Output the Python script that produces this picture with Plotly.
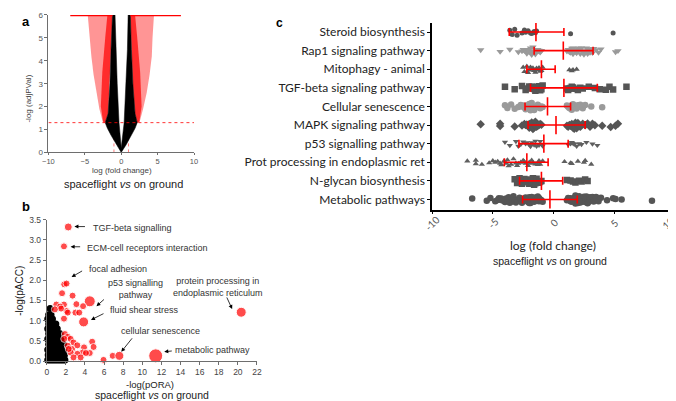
import plotly.graph_objects as go

W, H = 676, 401


def P(x, y):
    # pixel position -> paper coords
    return x / W, 1 - y / H


# ---------------- panel a: volcano (envelopes of the dense point clouds)
black_x = [0, -0.7, -1.4, -1.9, -2.2, -1.8, -1.55, -1.4, -1.2, -0.85, -0.75, -0.55, -0.3, 0,
           0.4, 0.65, 0.85, 0.95, 1.25, 1.4, 1.6, 1.9, 2.2, 1.9, 1.4, 0.7, 0]
black_y = [0, 0.35, 0.75, 1.05, 1.3, 1.7, 3.0, 4.5, 6.0, 6.0, 4.5, 3.0, 1.3, 0.2,
           1.3, 3.0, 4.5, 6.0, 6.0, 4.5, 3.0, 1.7, 1.3, 1.05, 0.75, 0.35, 0]
red_left_x = [-2.2, -2.5, -3.0, -3.4, -3.8, -4.1, -4.3, -4.5, -4.6, -1.2, -1.4, -1.55, -1.8, -2.2]
red_left_y = [1.3, 1.3, 1.9, 2.6, 3.4, 4.2, 5.0, 5.7, 6.0, 6.0, 4.5, 3.0, 1.7, 1.3]
red_right_x = [2.2, 2.5, 3.0, 3.5, 3.9, 4.2, 4.3, 4.4, 4.5, 1.25, 1.4, 1.6, 1.9, 2.2]
red_right_y = [1.3, 1.3, 1.9, 2.6, 3.4, 4.2, 5.0, 5.7, 6.0, 6.0, 4.5, 3.0, 1.7, 1.3]
dense_left_x = [-2.2, -2.5, -2.8, -2.6, -2.2, -1.9, -1.2, -1.4, -1.55, -1.8, -2.2]
dense_left_y = [1.3, 1.35, 2.0, 3.5, 5.0, 6.0, 6.0, 4.5, 3.0, 1.7, 1.3]
dense_right_x = [2.2, 2.5, 2.8, 2.6, 2.2, 1.9, 1.25, 1.4, 1.6, 1.9, 2.2]
dense_right_y = [1.3, 1.35, 2.0, 3.5, 5.0, 6.0, 6.0, 4.5, 3.0, 1.7, 1.3]
top_left = [-7.0, -1.2]
top_right = [1.25, 8.2]
p_cut = 1.3
fc_cut = [-1, 1]

# ---------------- panel b: pathway scatter
b_black_x = [0.1, 0.3, 0.5, 0.7, 0.9, 1.1, 1.3, 1.5, 1.7, 1.9,
             0.15, 0.4, 0.6, 0.85, 1.05, 1.25, 1.45, 1.65, 1.85,
             0.1, 0.35, 0.55, 0.8, 1.0, 1.2, 1.4, 1.6, 1.8,
             0.2, 0.45, 0.7, 0.9, 1.15, 1.35, 1.55, 1.75,
             0.1, 0.3, 0.6, 0.8, 1.05, 1.3, 1.5,
             0.2, 0.45, 0.7, 0.95, 1.2, 1.4,
             0.1, 0.35, 0.6, 0.85, 1.1,
             0.2, 0.45, 0.7, 0.95,
             0.1, 0.35, 0.6,
             0.2, 0.45, 0.35]
b_black_y = [0.03] * 10 + [0.15] * 9 + [0.28] * 9 + [0.42] * 8 + [0.55] * 7 + [0.68] * 6 + \
            [0.8] * 5 + [0.92] * 4 + [1.04] * 3 + [1.15] * 2 + [1.3]
b_red_x = [2.25, 1.8, 1.83, 2.07, 1.6, 2.7, 4.5, 3.1, 3.8, 1.8, 1.0, 1.4, 2.07, 3.0, 3.4,
           3.86, 1.8, 2.2, 1.5, 0.85, 1.9, 2.2, 1.83, 2.5, 2.8, 2.2, 2.65, 3.2, 3.9, 4.75,
           4.9, 4.5, 3.75, 3.2, 2.5, 2.8, 2.3, 5.94, 6.9, 7.6, 3.55, 4.1, 20.35, 11.4]
b_red_y = [3.32, 2.84, 1.9, 1.92, 1.68, 1.62, 1.48, 1.41, 1.36, 1.4, 1.4, 1.35, 1.24, 1.2, 1.2,
           0.97, 1.05, 1.2, 1.3, 1.28, 0.67, 0.6, 0.55, 0.55, 0.46, 0.38, 0.3, 0.39, 0.34, 0.48,
           0.35, 0.2, 0.21, 0.18, 0.21, 0.09, 0.3, 0.03, 0.13, 0.13, 0.09, 0.2, 1.21, 0.13]
b_red_size = [8, 7, 7, 7, 7, 7, 11, 7, 7, 7, 7, 7, 7, 7, 7,
              10, 7, 7, 7, 7, 7, 7, 7, 7, 7, 7, 7, 7, 7, 7,
              7, 7, 7, 7, 7, 7, 7, 7, 7, 9, 7, 7, 10, 14]

# ---------------- panel c: genes per pathway
pathways = ["Steroid biosynthesis", "Rap1 signaling pathway", "Mitophagy - animal",
            "TGF-beta signaling pathway", "Cellular senescence", "MAPK signaling pathway",
            "p53 signalling pathway", "Prot processing in endoplasmic ret",
            "N-glycan biosynthesis", "Metabolic pathways"]
steroid = [-3.6, -3.4, -3.2, -3.0, -2.6, -2.4, -2.3, -2.1, -1.9, -1.8, -1.6, -1.5, -1.4, 1.4, 4.9]
rap1 = [-6.0, -4.4, -3.6, -2.9, -2.6, -2.5, -2.4, -2.3, -2.2, -2.1, -2.0, -1.9, -1.8, -1.7, -1.6,
        -1.5, -1.4, -1.3, -1.2, -1.1, -1.0, -2.2, -1.8, -1.5, -1.2, 1.1, 1.2, 1.3, 1.4, 1.5, 1.6,
        1.7, 1.8, 1.9, 2.0, 2.1, 2.2, 2.3, 2.4, 2.5, 2.6, 2.7, 2.8, 2.9, 3.0, 3.1, 3.2, 3.3, 3.5,
        3.7, 3.9, 1.3, 1.6, 2.0, 2.4, 2.8, 3.2, 5.1, 5.3]
mitophagy = [-2.5, -2.4, -2.2, -2.1, -2.0, -1.9, -1.8, -1.7, -1.6, -1.5, -1.4, -1.3, -1.2, -1.1,
             -1.0, -0.9, 1.3, 1.5, 1.6, 1.9]
tgf = [-4.0, -3.2, -2.6, -2.3, -2.1, -2.0, -1.9, -1.8, -1.6, -1.5, -1.4, -1.3, -1.2, -1.1, -1.0,
       -0.9, 1.1, 1.2, 1.3, 1.4, 1.5, 1.6, 1.8, 2.0, 2.2, 2.4, 2.9, 3.4, 3.8, 4.3, 4.6, 4.9, 6.0]
senescence = [-4.0, -3.8, -3.5, -3.2, -2.9, -2.7, -2.5, -2.4, -2.3, -2.2, -2.1, -2.0, -1.9, -1.8,
              -1.7, -1.6, -1.5, -1.4, -1.3, -1.2, -1.1, -1.0, -0.9, -2.6, -1.9, -1.3, 1.1, 1.2,
              1.3, 1.4, 1.5, 1.6, 1.7, 1.8, 1.9, 2.0, 2.2, 2.4, 2.6, 1.5, 2.1, 3.1, 4.0]
mapk = [-6.0, -4.4, -4.4, -3.2, -2.6, -2.4, -2.3, -2.2, -2.1, -2.0, -1.9, -1.8, -1.7, -1.6, -1.5,
        -1.4, -1.3, -1.2, -1.1, -1.0, -2.0, -1.5, 1.1, 1.2, 1.3, 1.4, 1.5, 1.6, 1.7, 1.8, 1.9, 2.0,
        2.1, 2.2, 2.4, 2.6, 2.8, 3.0, 3.2, 3.4, 1.5, 2.0, 4.0, 4.7, 5.1, 5.3]
p53 = [-4.0, -3.6, -3.1, -2.9, -2.7, -2.5, -2.3, -2.2, -2.0, -1.9, -1.8, -1.6, -1.5, -1.4, -1.2,
       -1.1, -1.0, -0.9, 1.2, 1.4, 1.5, 1.7, 1.9, 2.1, 2.3, 1.6, 2.7, 3.2, 3.6]
prot = [-7.1, -6.4, -5.9, -5.3, -5.0, -4.8, -4.6, -4.4, -4.3, -4.1, -3.9, -3.7, -3.5, -3.3, -3.1,
        -2.9, -2.7, -2.5, -2.3, -2.1, -1.9, -1.7, -1.5, -1.3, -1.1, -0.9, -3.8, -3.0, -2.4, -1.8,
        -1.2, -2.0, 0.9, 1.5, 2.0, 2.5, 3.1, 1.4, 2.6, -6.4]
nglycan = [-3.2, -3.0, -2.8, -2.6, -2.5, -2.4, -2.3, -2.2, -2.1, -2.0, -1.9, -1.8, -1.7, -1.6,
           -1.5, -1.4, -1.3, -1.2, -1.1, -1.0, 1.1, 1.4, 1.6, 1.8, 2.1, 2.3, 2.6, 2.8]
metabolic = [-6.7, -5.5, -5.2, -4.8, -4.6, -4.5, -4.3, -4.2, -4.0, -3.9, -3.7, -3.6, -3.4, -3.3,
             -3.1, -3.0, -2.9, -2.8, -2.7, -2.6, -2.5, -2.4, -2.3, -2.2, -2.1, -2.0, -1.9, -1.8,
             -1.7, -1.6, -1.5, -1.4, -1.3, -1.2, -1.1, -1.0, -0.9, -4.4, -3.8, -3.2, -2.6, -2.0,
             -1.6, -1.2, 1.1, 1.2, 1.3, 1.4, 1.5, 1.6, 1.7, 1.8, 1.9, 2.0, 2.1, 2.2, 2.3, 2.4, 2.5,
             2.6, 2.7, 2.8, 2.9, 3.0, 3.1, 3.2, 3.3, 3.5, 3.7, 3.9, 1.4, 1.8, 2.2, 2.6, 3.0, 4.4,
             4.9, 5.1, 5.6, 8.1]
c_values = [steroid, rap1, mitophagy, tgf, senescence, mapk, p53, prot, nglycan, metabolic]
c_center = [-1.45, 0.8, -1.0, 0.85, -0.5, 0.2, -0.8, -2.2, -1.0, -0.3]
c_low = [-3.65, -1.6, -2.2, -1.9, -2.35, -2.1, -2.85, -4.05, -2.8, -2.55]
c_high = [0.85, 3.25, 0.13, 3.6, 1.4, 2.6, 1.2, -0.45, 0.75, 1.95]
c_ticks = [-10, -5, 0, 5, 10]

c_symbol = ["circle", "triangle-down", "triangle-up", "square", "circle", "diamond",
            "triangle-down", "triangle-up", "square", "circle"]
c_color = ["#555555", "#9a9a9a", "#5a5a5a", "#555555", "#9a9a9a", "#555555",
           "#5f5f5f", "#5f5f5f", "#555555", "#555555"]
c_size = [5, 6.5, 5.5, 6.5, 6.5, 6.5, 5.5, 5.5, 6.5, 6.5]

fig = go.Figure()

# ---- a
for xs in ([fc_cut[0]] * 2, [fc_cut[1]] * 2):
    fig.add_trace(go.Scatter(x=xs, y=[0, 6], mode="lines", xaxis="x", yaxis="y",
                             line=dict(color="rgba(255,0,0,0.5)", width=1, dash="dot")))
for xs, ys in ((red_left_x, red_left_y), (red_right_x, red_right_y)):
    fig.add_trace(go.Scatter(x=xs, y=ys, mode="lines", fill="toself", xaxis="x", yaxis="y",
                             line=dict(width=0), fillcolor="rgba(255,20,20,0.45)"))
for xs, ys in ((dense_left_x, dense_left_y), (dense_right_x, dense_right_y)):
    fig.add_trace(go.Scatter(x=xs, y=ys, mode="lines", fill="toself", xaxis="x", yaxis="y",
                             line=dict(width=0), fillcolor="rgba(255,0,0,0.7)"))
fig.add_trace(go.Scatter(x=black_x, y=black_y, mode="lines", fill="toself", xaxis="x", yaxis="y",
                         line=dict(width=0.5, color="black"), fillcolor="black"))
fig.add_trace(go.Scatter(x=[-10, 10], y=[p_cut, p_cut], mode="lines", xaxis="x", yaxis="y",
                         line=dict(color="rgba(255,0,0,0.8)", width=1, dash="dot")))
for xs in (top_left, top_right):
    fig.add_trace(go.Scatter(x=xs, y=[6, 6], mode="lines", xaxis="x", yaxis="y",
                             line=dict(color="red", width=2.5), cliponaxis=False))

# ---- b
fig.add_trace(go.Scatter(x=b_black_x, y=b_black_y, mode="markers", xaxis="x2", yaxis="y2",
                         marker=dict(color="black", size=7), cliponaxis=False))
fig.add_trace(go.Scatter(x=b_red_x, y=b_red_y, mode="markers", xaxis="x2", yaxis="y2",
                         marker=dict(color="red", size=b_red_size), cliponaxis=False))

# ---- c
for name, vals, sym, col, sz in zip(pathways, c_values, c_symbol, c_color, c_size):
    fig.add_trace(go.Box(x=vals, y=[name] * len(vals), orientation="h", xaxis="x3", yaxis="y3",
                         boxpoints="all", jitter=0.9, pointpos=0,
                         fillcolor="rgba(0,0,0,0)", line=dict(width=0, color="rgba(0,0,0,0)"),
                         whiskerwidth=0,
                         marker=dict(symbol=sym, color=col, size=sz), hoverinfo="skip"))
fig.add_trace(go.Scatter(
    x=c_center, y=pathways, mode="markers", xaxis="x3", yaxis="y3",
    marker=dict(symbol="line-ns", size=13, color="red", line=dict(width=1.6, color="red")),
    error_x=dict(type="data", symmetric=False,
                 array=[h - c for h, c in zip(c_high, c_center)],
                 arrayminus=[c - l for c, l in zip(c_center, c_low)],
                 color="red", thickness=1.6, width=4)))

ax_common = dict(showgrid=False, zeroline=False, showline=True, ticks="outside", ticklen=3,
                 fixedrange=True)
gray = "#6e6e6e"
fig.update_layout(
    width=W, height=H, margin=dict(l=0, r=0, t=0, b=0),
    paper_bgcolor="white", plot_bgcolor="white", showlegend=False,
    font=dict(family="Liberation Sans, Arial, sans-serif", color="#333333"),
    xaxis=dict(ax_common, domain=[35 / W, 183 / W], range=[-10, 10], dtick=5, ticklen=2,
               linecolor=gray, tickcolor=gray, tickfont=dict(size=7.5, color="#555"), anchor="y"),
    yaxis=dict(ax_common, domain=[1 - 143 / H, 1 - 2 / H], range=[0, 6], dtick=1,
               linecolor=gray, tickcolor=gray, tickfont=dict(size=8, color="#555"), anchor="x"),
    xaxis2=dict(ax_common, domain=[33.3 / W, 247 / W], range=[0, 22], dtick=2,
                linecolor=gray, tickcolor=gray, tickfont=dict(size=8.5, color="#444"), anchor="y2"),
    yaxis2=dict(ax_common, domain=[1 - 357 / H, 1 - 212 / H], range=[0, 3.5], dtick=0.5,
                tickformat=".1f", linecolor=gray, tickcolor=gray,
                tickfont=dict(size=8.5, color="#444"), anchor="x2"),
    xaxis3=dict(ax_common, domain=[425 / W, 672 / W], range=[-10, 10], tickvals=c_ticks,
                showticklabels=False,
                linecolor="black", linewidth=1.5, tickcolor="black", anchor="y3"),
    yaxis3=dict(ax_common, domain=[1 - 201.7 / H, 1 - 10 / H], type="category",
                categoryorder="array", categoryarray=pathways[::-1], range=[-0.55, 9.5],
                linecolor="black", linewidth=1.5, tickcolor="black",
                tickfont=dict(size=12, color="#222", family="Lato, sans-serif"), anchor="x3"),
)

ann = []


def text(x, y, s, size=10, anchor="center", **kw):
    px, py = P(x, y)
    ann.append(dict(x=px, y=py, xref="paper", yref="paper", text=s, showarrow=False,
                    xanchor=anchor, yanchor="middle", font=dict(size=size, **kw.pop("font", {})),
                    **kw))


text(12, 9, "<b>a</b>", 13, font=dict(color="black"))
text(12, 198, "<b>b</b>", 13, font=dict(color="black"))
text(270, 10, "<b>c</b>", 12, font=dict(color="black"))
text(15, 88, "-log (adjPVal)", 8, textangle=-90, font=dict(color="#444"))
text(110, 162, "log (fold change)", 8, font=dict(color="#444"))
text(111, 175, "spaceflight <i>vs</i> on ground", 11, font=dict(color="#222"))
text(6, 285, "-log(pACC)", 10, textangle=-90, font=dict(color="#222"))
text(138, 381.5, "-log(pORA)", 9.5, font=dict(color="#222"))
text(140, 392, "spaceflight <i>vs</i> on ground", 10.5, font=dict(color="#222"))
text(548, 238, "log (fold change)", 12, font=dict(color="#222", family="Lato, sans-serif"))
text(545, 254.5, "spaceflight <i>vs</i> on ground", 10.5, font=dict(color="#222"))

# rotated x tick labels of panel c, centred under their ticks
for t in c_ticks:
    ann.append(dict(x=t, y=P(0, 215)[1], xref="x3", yref="paper", text=str(t), showarrow=False,
                    textangle=-45, xanchor="center", yanchor="middle", borderpad=0,
                    xshift=-7 if t == c_ticks[-1] else 0,
                    font=dict(size=10, color="#555", family="Lato, sans-serif")))

# panel b labels
text(78, 220.5, "TGF-beta signalling", 9, "left")
text(72, 240.7, "ECM-cell receptors interaction", 9, "left")
text(74, 262.7, "focal adhesion", 9, "left")
text(124, 283.5, "p53 signalling<br>pathway", 9)
text(96, 305, "fluid shear stress", 9, "left")
text(107, 326, "cellular senescence", 9, "left")
text(162, 345.7, "metabolic pathway", 9, "left")
text(207, 280.5, "protein processing in<br>endoplasmic reticulum", 9)

# arrows: tip in data coords, tail as pixel offset
arrow_tip_x = [2.9, 2.5, 2.6, 5.2, 4.63, 7.8, 12.3, 19.4]
arrow_tip_y = [3.33, 2.83, 2.08, 1.36, 1.02, 0.23, 0.23, 1.29]
arrow_dx = [12, 11, 12, 9, 14, 12, 9, -6]
arrow_dy = [0, 0, -7, -8, -7, -15, -1, -13]
for x, y, dx, dy in zip(arrow_tip_x, arrow_tip_y, arrow_dx, arrow_dy):
    ann.append(dict(x=x, y=y, xref="x2", yref="y2", ax=dx, ay=dy, text="", showarrow=True,
                    arrowhead=2, arrowsize=1, arrowwidth=0.8, arrowcolor="black"))

fig.update_layout(annotations=ann)
fig.write_html("out.html")
